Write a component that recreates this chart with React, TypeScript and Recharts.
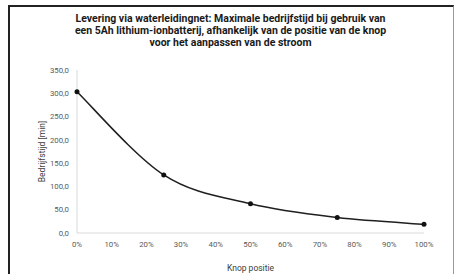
import { LineChart, Line, XAxis, YAxis } from "recharts";

const positions = [0, 0.25, 0.5, 0.75, 1];
const runtimeMin = [303.3, 124.7, 62.6, 33.2, 18.8];
const xTicks = [0, 0.1, 0.2, 0.3, 0.4, 0.5, 0.6, 0.7, 0.8, 0.9, 1];
const yTicks = [0, 50, 100, 150, 200, 250, 300, 350];

const data = positions.map((p, i) => ({ pos: p, runtime: runtimeMin[i] }));

const tickStyle = { fill: "#595959", fontSize: 7.8, fontFamily: "Roboto" };

// spreadsheet-style smoothed line (Catmull-Rom through the points)
const smoothCurve = (context: any) => {
  let pts: number[][] = [];
  return {
    areaStart() {},
    areaEnd() {},
    lineStart() {
      pts = [];
    },
    point(x: number, y: number) {
      pts.push([+x, +y]);
    },
    lineEnd() {
      if (!pts.length) return;
      context.moveTo(pts[0][0], pts[0][1]);
      for (let i = 0; i < pts.length - 1; i++) {
        const p0 = pts[i - 1] || pts[i];
        const p1 = pts[i];
        const p2 = pts[i + 1];
        const p3 = pts[i + 2] || pts[i + 1];
        context.bezierCurveTo(
          p1[0] + (p2[0] - p0[0]) / 6,
          p1[1] + (p2[1] - p0[1]) / 6,
          p2[0] - (p3[0] - p1[0]) / 6,
          p2[1] - (p3[1] - p1[1]) / 6,
          p2[0],
          p2[1]
        );
      }
    },
  };
};

const App = () => (
  <div style={{ position: "absolute", left: 0, top: 0, width: 455, height: 274, overflow: "hidden", background: "#fff" }}>
    <div
      style={{
        position: "absolute",
        left: 8,
        top: 5,
        width: 446,
        height: 290,
        boxSizing: "border-box",
        borderLeft: "2px solid #222",
        borderTop: "2px solid #222",
        borderRight: "1px solid #999",
      }}
    />
    <div
      style={{
        position: "absolute",
        left: 0,
        top: 13,
        width: 461,
        textAlign: "center",
        fontFamily: "Roboto",
        fontWeight: 700,
        fontSize: 10.5,
        lineHeight: "12px",
        color: "#1a1a1a",
      }}
    >
      Levering via waterleidingnet: Maximale bedrijfstijd bij gebruik van
      <br />
      een 5Ah lithium-ionbatterij, afhankelijk van de positie van de knop
      <br />
      voor het aanpassen van de stroom
    </div>
    <div style={{ position: "absolute", left: 0, top: 0 }}>
      <LineChart width={455} height={274} data={data} margin={{ top: 70, right: 31, bottom: 1, left: 37 }}>
        <XAxis
          dataKey="pos"
          type="number"
          domain={[0, 1]}
          ticks={xTicks}
          tickFormatter={(v: number) => `${Math.round(v * 100)}%`}
          tickLine={false}
          axisLine={{ stroke: "#d9d9d9" }}
          tick={tickStyle}
          height={40}
          label={{ value: "Knop positie", position: "insideBottom", offset: 2, style: { fill: "#404040", fontSize: 8.5, fontFamily: "Roboto" } }}
        />
        <YAxis
          type="number"
          domain={[0, 350]}
          ticks={yTicks}
          tickFormatter={(v: number) => v.toFixed(1).replace(".", ",")}
          tickLine={false}
          axisLine={{ stroke: "#d9d9d9" }}
          tick={tickStyle}
          width={40}
          label={{
            value: "Bedrijfstijd [min]",
            angle: -90,
            position: "insideLeft",
            offset: 5,
            style: { textAnchor: "middle", fill: "#404040", fontSize: 8.5, fontFamily: "Roboto" },
          }}
        />
        <Line
          type={smoothCurve as any}
          dataKey="runtime"
          stroke="#1f1f1f"
          strokeWidth={1.5}
          dot={{ r: 2.5, fill: "#111", stroke: "#111", strokeWidth: 0 }}
          isAnimationActive={false}
        />
      </LineChart>
    </div>
  </div>
);

export default App;
